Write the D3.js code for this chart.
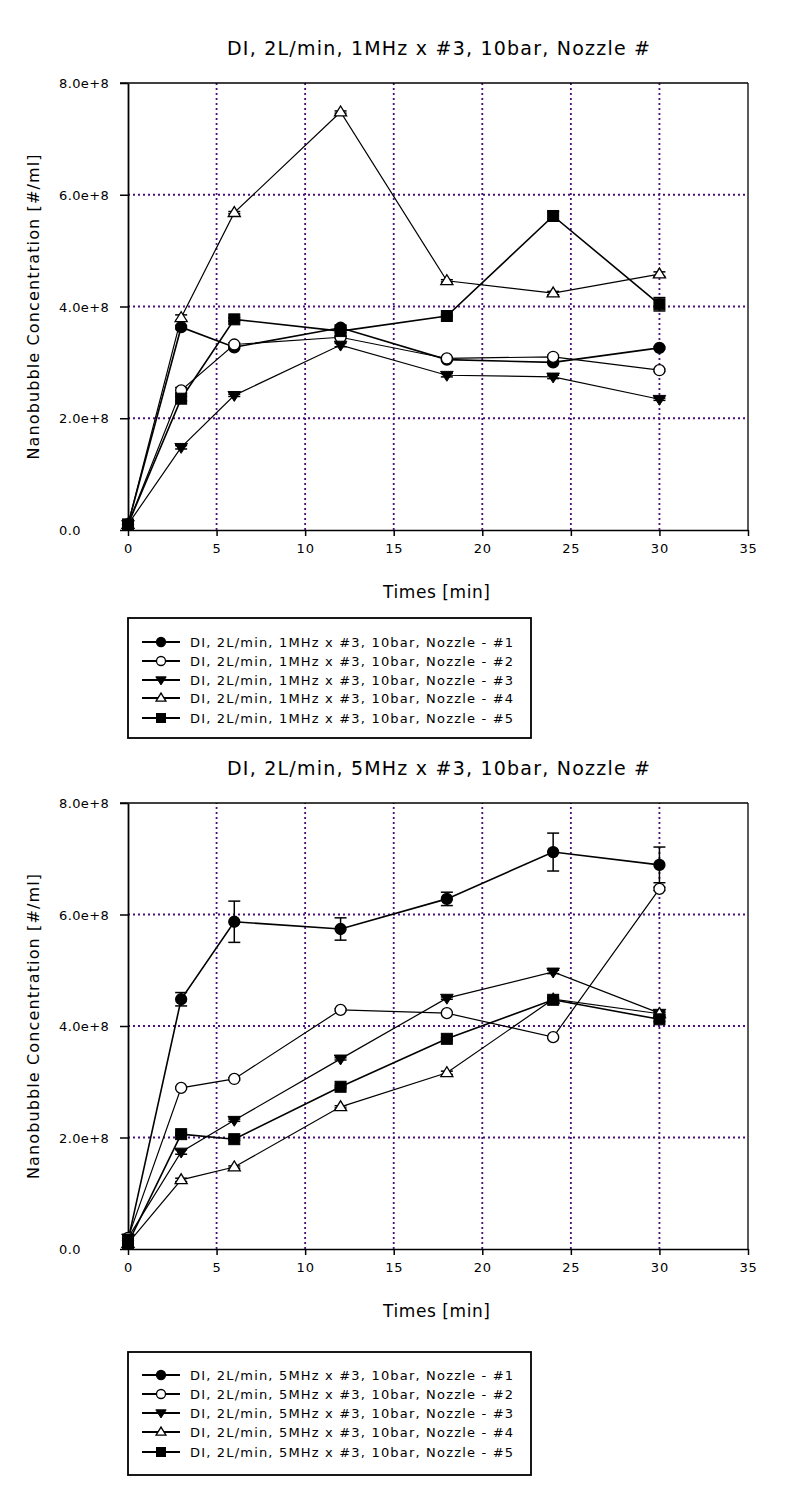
<!DOCTYPE html>
<html>
<head>
<meta charset="utf-8">
<script src="https://cdn.jsdelivr.net/npm/d3@7"></script>
<style>
body{margin:0;background:#fff;}
svg{display:block;}
text{font-family:"DejaVu Sans","Liberation Sans",Arial,sans-serif;fill:#000;}
</style>
</head>
<body>
<svg id="chart" width="793" height="1485"></svg>
<script>
// ---------- data ----------
const times = [0, 3, 6, 12, 18, 24, 30];
const xTicks = [0, 5, 10, 15, 20, 25, 30, 35];
const yTicks = [0, 2e8, 4e8, 6e8, 8e8];
const yTickLabels = ["0.0", "2.0e+8", "4.0e+8", "6.0e+8", "8.0e+8"];
const nozzles = ["#1", "#2", "#3", "#4", "#5"];
const markerTypes = ["circleFill", "circleOpen", "triDownFill", "triUpOpen", "squareFill"];

const title1 = "DI, 2L/min, 1MHz x #3, 10bar, Nozzle #";
const title2 = "DI, 2L/min, 5MHz x #3, 10bar, Nozzle #";
const legendPrefix1 = "DI, 2L/min, 1MHz x #3, 10bar, Nozzle - ";
const legendPrefix2 = "DI, 2L/min, 5MHz x #3, 10bar, Nozzle - ";
const xLabel = "Times [min]";
const yLabel = "Nanobubble Concentration [#/ml]";

// 1 MHz panel (values in #/ml)
const mhz1_n1 = [0.1e8, 3.63e8, 3.27e8, 3.62e8, 3.05e8, 3.00e8, 3.26e8];
const mhz1_n2 = [0.1e8, 2.50e8, 3.32e8, 3.45e8, 3.07e8, 3.10e8, 2.86e8];
const mhz1_n3 = [0.1e8, 1.48e8, 2.41e8, 3.31e8, 2.77e8, 2.74e8, 2.34e8];
const mhz1_n4 = [0.1e8, 3.80e8, 5.68e8, 7.48e8, 4.46e8, 4.24e8, 4.58e8];
const mhz1_n5 = [0.1e8, 2.35e8, 3.77e8, 3.56e8, 3.83e8, 5.62e8, 4.04e8];
const mhz1_err = [
  [0, 0.03e8, 0.02e8, 0.05e8, 0.02e8, 0.02e8, 0.02e8],
  [0, 0.05e8, 0.03e8, 0.02e8, 0.02e8, 0.03e8, 0.02e8],
  [0, 0.03e8, 0.02e8, 0.03e8, 0.03e8, 0.03e8, 0.02e8],
  [0, 0.05e8, 0.02e8, 0.02e8, 0.02e8, 0.03e8, 0.04e8],
  [0, 0.04e8, 0.03e8, 0.03e8, 0.02e8, 0.08e8, 0.12e8]
];

// 5 MHz panel
const mhz5_n1 = [0.15e8, 4.48e8, 5.87e8, 5.74e8, 6.28e8, 7.12e8, 6.89e8];
const mhz5_n2 = [0.2e8, 2.89e8, 3.05e8, 4.29e8, 4.23e8, 3.80e8, 6.46e8];
const mhz5_n3 = [0.2e8, 1.74e8, 2.31e8, 3.41e8, 4.50e8, 4.97e8, 4.23e8];
const mhz5_n4 = [0.1e8, 1.24e8, 1.47e8, 2.55e8, 3.16e8, 4.48e8, 4.22e8];
const mhz5_n5 = [0.1e8, 2.06e8, 1.97e8, 2.91e8, 3.77e8, 4.47e8, 4.12e8];
const mhz5_err = [
  [0, 0.12e8, 0.37e8, 0.20e8, 0.12e8, 0.34e8, 0.32e8],
  [0, 0.02e8, 0.02e8, 0.02e8, 0.02e8, 0.02e8, 0.03e8],
  [0, 0.04e8, 0.02e8, 0.02e8, 0.02e8, 0.03e8, 0.02e8],
  [0, 0.03e8, 0.02e8, 0.02e8, 0.03e8, 0.03e8, 0.03e8],
  [0, 0.02e8, 0.02e8, 0.02e8, 0.02e8, 0.02e8, 0.04e8]
];

// ---------- drawing ----------
const svg = d3.select("#chart");
const GRID = "#4b0f7a";
const FONT = "'DejaVu Sans','Liberation Sans',Arial,sans-serif";

function marker(g, type, x, y, r) {
  const s = r;
  if (type === "circleFill" || type === "circleOpen") {
    g.append("circle").attr("cx", x).attr("cy", y).attr("r", s)
      .attr("fill", type === "circleFill" ? "#000" : "#fff").attr("stroke", "#000").attr("stroke-width", 1.3);
  } else if (type === "squareFill") {
    g.append("rect").attr("x", x - s).attr("y", y - s).attr("width", 2 * s).attr("height", 2 * s)
      .attr("fill", "#000").attr("stroke", "#000");
  } else if (type === "triDownFill") {
    const h = s * 1.15;
    g.append("path").attr("d", `M${x - h},${y - s * 0.7}L${x + h},${y - s * 0.7}L${x},${y + s * 1.1}Z`)
      .attr("fill", "#000").attr("stroke", "#000");
  } else if (type === "triUpOpen") {
    const h = s * 1.1;
    g.append("path").attr("d", `M${x - h},${y + s * 0.7}L${x + h},${y + s * 0.7}L${x},${y - s * 1.1}Z`)
      .attr("fill", "#fff").attr("stroke", "#000").attr("stroke-width", 1.3);
  }
}

function drawPanel(cfg) {
  const g = svg.append("g");
  const x = d3.scaleLinear().domain([0, 35]).range([128, 748]);
  const y = d3.scaleLinear().domain([0, 8e8]).range([cfg.y0, cfg.yTop]);

  // grid
  g.selectAll(".vg").data(xTicks.filter(t => t > 0 && t < 35)).enter().append("line")
    .attr("x1", d => x(d)).attr("x2", d => x(d)).attr("y1", cfg.y0).attr("y2", cfg.yTop)
    .attr("stroke", GRID).attr("stroke-width", 1.8).attr("stroke-dasharray", "2,3");
  g.selectAll(".hg").data(yTicks.filter(t => t > 0 && t < 8e8)).enter().append("line")
    .attr("x1", 128).attr("x2", 748).attr("y1", d => y(d)).attr("y2", d => y(d))
    .attr("stroke", GRID).attr("stroke-width", 1.8).attr("stroke-dasharray", "2,3");

  // axes
  const xAxis = d3.axisBottom(x).tickValues(xTicks).tickSize(6).tickSizeOuter(0).tickFormat(d3.format("d"));
  const xg = g.append("g").attr("transform", `translate(0,${cfg.y0})`).call(xAxis);
  xg.select(".domain").attr("stroke", "#000").attr("stroke-width", 1.5);
  xg.selectAll(".tick line").attr("stroke", "#000").attr("stroke-width", 1.5);
  xg.selectAll(".tick text").attr("font-size", 13).attr("dy", "1.1em").attr("letter-spacing", 0.8)
    .attr("font-family", FONT).attr("fill", "#000");

  const yAxis = d3.axisLeft(y).tickValues(yTicks).tickSize(8).tickSizeOuter(0).tickFormat("");
  const yg = g.append("g").attr("transform", "translate(128,0)").call(yAxis);
  yg.select(".domain").attr("stroke", "#000").attr("stroke-width", 1.8);
  yg.selectAll(".tick line").attr("stroke", "#000").attr("stroke-width", 1.5);
  g.selectAll(".ylab").data(yTicks).enter().append("text")
    .attr("x", 59).attr("y", d => y(d) + 5).attr("font-size", 13).attr("letter-spacing", 0.4)
    .attr("text-anchor", "start").text((d, i) => yTickLabels[i]);

  // frame top/right
  g.append("line").attr("x1", 120).attr("x2", 748).attr("y1", cfg.yTop).attr("y2", cfg.yTop)
    .attr("stroke", "#000").attr("stroke-width", 1.5);
  g.append("line").attr("x1", 748).attr("x2", 748).attr("y1", cfg.yTop).attr("y2", cfg.y0)
    .attr("stroke", "#000").attr("stroke-width", 1.3);

  // title & labels
  g.append("text").attr("x", 227).attr("y", cfg.titleY).attr("text-anchor", "start")
    .attr("font-size", 19).attr("textLength", 423).attr("lengthAdjust", "spacing").text(cfg.title);
  g.append("text").attr("x", 383).attr("y", cfg.y0 + 68).attr("text-anchor", "start")
    .attr("font-size", 17).attr("textLength", 107).attr("lengthAdjust", "spacing").text(xLabel);
  g.append("text").attr("transform", `translate(39,${(cfg.y0 + cfg.yTop) / 2 + 153}) rotate(-90)`)
    .attr("text-anchor", "start").attr("font-size", 16).attr("textLength", 305)
    .attr("lengthAdjust", "spacing").text(yLabel);

  // series
  const line = d3.line().x((d, i) => x(times[i])).y(d => y(d));
  cfg.series.forEach((vals, si) => {
    g.append("path").datum(vals).attr("d", line).attr("fill", "none")
      .attr("stroke", "#000").attr("stroke-width", si === 0 || si === 4 ? 1.6 : 1.2);
  });
  cfg.series.forEach((vals, si) => {
    const errs = cfg.errors[si];
    vals.forEach((v, i) => {
      const e = errs[i];
      if (e > 0) {
        const cx = x(times[i]);
        g.append("line").attr("x1", cx).attr("x2", cx).attr("y1", y(v - e)).attr("y2", y(v + e))
          .attr("stroke", "#000").attr("stroke-width", 1.5);
        [v - e, v + e].forEach(b => g.append("line").attr("x1", cx - 6).attr("x2", cx + 6)
          .attr("y1", y(b)).attr("y2", y(b)).attr("stroke", "#000").attr("stroke-width", 1.5));
      }
    });
  });
  cfg.series.forEach((vals, si) => {
    vals.forEach((v, i) => marker(g, markerTypes[si], x(times[i]), y(v), 5.5));
  });

  // legend
  const L = cfg.legend;
  g.append("rect").attr("x", L.x).attr("y", L.y).attr("width", L.w).attr("height", L.h)
    .attr("fill", "#fff").attr("stroke", "#000").attr("stroke-width", 1.8);
  nozzles.forEach((n, i) => {
    const ry = L.rows[i];
    g.append("line").attr("x1", L.x + 14).attr("x2", L.x + 52).attr("y1", ry).attr("y2", ry)
      .attr("stroke", "#000").attr("stroke-width", 1.8);
    marker(g, markerTypes[i], L.x + 33, ry, 4.5);
    g.append("text").attr("x", L.x + 62).attr("y", ry + 5).attr("font-size", 13)
      .attr("textLength", 323).attr("lengthAdjust", "spacing")
      .text(cfg.legendPrefix + n);
  });
}

drawPanel({
  title: title1, titleY: 55, yTop: 83, y0: 530,
  series: [mhz1_n1, mhz1_n2, mhz1_n3, mhz1_n4, mhz1_n5], errors: mhz1_err,
  legendPrefix: legendPrefix1,
  legend: {x: 128, y: 618, w: 403, h: 120, rows: [642, 661, 680, 698, 718]}
});
drawPanel({
  title: title2, titleY: 775, yTop: 803, y0: 1249,
  series: [mhz5_n1, mhz5_n2, mhz5_n3, mhz5_n4, mhz5_n5], errors: mhz5_err,
  legendPrefix: legendPrefix2,
  legend: {x: 128, y: 1352, w: 403, h: 123, rows: [1375, 1394, 1413, 1432, 1452]}
});
</script>
</body>
</html>
